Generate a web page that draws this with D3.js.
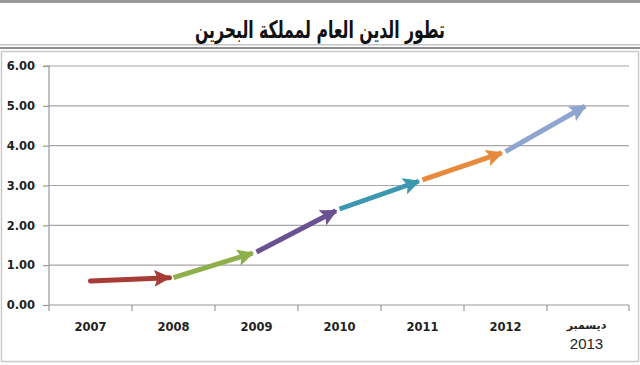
<!DOCTYPE html>
<html><head><meta charset="utf-8">
<script src="https://cdn.jsdelivr.net/npm/d3@7"></script>
<style>
html,body{margin:0;padding:0;background:#fff;}
svg{display:block;}
</style></head>
<body>
<svg id="c" width="640" height="365"></svg>
<script>
const title = "تطور الدين العام لمملكة البحرين";
const categories = ["2007","2008","2009","2010","2011","2012","2013"];
const categorySubLabels = ["","","","","","","ديسمبر"];
const values = [0.60, 0.69, 1.33, 2.41, 3.14, 3.85, 5.04];
const yTicks = [0,1,2,3,4,5,6];
const segmentColors = ["#a63b38","#8db04b","#6a5192","#3b98b0","#e88a3c","#8ea6cf"];

(function(){
const svg = d3.select("#c");
const W = 640, H = 365;

// frame
svg.append("rect").attr("x",0).attr("y",0).attr("width",W).attr("height",3).attr("fill","#9a9a9a");
svg.append("rect").attr("x",0).attr("y",44).attr("width",W).attr("height",1.5).attr("fill","#c4c4c4");
svg.append("rect").attr("x",0).attr("y",47).attr("width",W).attr("height",2).attr("fill","#8f8f8f");
svg.append("rect").attr("x",1.5).attr("y",51.5).attr("width",W-3).attr("height",310).attr("fill","#fff")
  .attr("stroke","#c9c9c9").attr("stroke-width",1.5);

svg.append("text").attr("x",320).attr("y",38).attr("text-anchor","middle")
  .attr("font-family","'DejaVu Sans', 'Noto Sans', sans-serif").attr("font-weight","bold")
  .attr("font-size",24).attr("fill","#111").attr("direction","rtl")
  .attr("textLength",250).attr("lengthAdjust","spacingAndGlyphs").text(title);

const mL = 49, mR = 630, mT = 66, mB = 305;
const x = d3.scaleBand().domain(categories).range([mL,mR]);
const y = d3.scaleLinear().domain([0,6]).range([mB,mT]);

// grid
svg.append("g").selectAll("line").data(yTicks.filter(d=>d>0)).join("line")
  .attr("x1",mL).attr("x2",mR-1).attr("y1",d=>y(d)).attr("y2",d=>y(d))
  .attr("stroke","#a6a6a6").attr("stroke-width",1.2);

// y axis
const yAxis = svg.append("g").attr("transform",`translate(${mL},0)`)
  .call(d3.axisLeft(y).tickValues(yTicks).tickSize(6).tickPadding(8).tickFormat(d3.format(".2f")));
yAxis.select(".domain").attr("stroke","#9a9a9a").attr("stroke-width",1.2).attr("d",`M-6,${mT}H0V${mB}`);
yAxis.selectAll(".tick line").attr("stroke","#9a9a9a").attr("stroke-width",1.2);
yAxis.selectAll("text").attr("font-family","'DejaVu Sans', sans-serif").attr("font-weight","bold")
  .attr("font-size",11.5).attr("fill","#222");

// x axis
const xg = svg.append("g").attr("transform",`translate(0,${mB})`);
xg.append("line").attr("x1",mL).attr("x2",mR-1).attr("stroke","#9a9a9a").attr("stroke-width",1.2);
const bounds = categories.map(c=>x(c)).concat([x(categories[categories.length-1])+x.bandwidth()]);
xg.selectAll(".tk").data(bounds).join("line").attr("class","tk")
  .attr("x1",d=>Math.min(d,mR-1)).attr("x2",d=>Math.min(d,mR-1)).attr("y1",0).attr("y2",6)
  .attr("stroke","#9a9a9a").attr("stroke-width",1.2);
categories.forEach((c,i)=>{
  const cx = x(c)+x.bandwidth()/2;
  if (categorySubLabels[i]) {
    svg.append("text").attr("x",cx-2).attr("y",329).attr("text-anchor","middle")
      .attr("font-family","'DejaVu Sans', sans-serif").attr("font-weight","bold").attr("font-size",11)
      .attr("fill","#222").attr("direction","rtl").text(categorySubLabels[i]);
    svg.append("text").attr("x",cx-2).attr("y",349).attr("text-anchor","middle")
      .attr("font-family","'Liberation Sans', Arial, sans-serif").attr("font-size",15)
      .attr("fill","#222").text(c);
  } else {
    svg.append("text").attr("x",cx).attr("y",331).attr("text-anchor","middle")
      .attr("font-family","'DejaVu Sans', sans-serif").attr("font-weight","bold").attr("font-size",11.5)
      .attr("fill","#222").text(c);
  }
});

// arrows
const defs = svg.append("defs");
segmentColors.forEach((col,i)=>{
  defs.append("marker").attr("id","ah"+i).attr("viewBox","0 0 10 10").attr("refX",9).attr("refY",5)
    .attr("markerWidth",3.4).attr("markerHeight",3.4).attr("orient","auto").attr("markerUnits","strokeWidth")
    .append("path").attr("d","M0,0L10,5L0,10L2,5Z").attr("fill",col);
});
const pts = categories.map((c,i)=>[x(c)+x.bandwidth()/2, y(values[i])]);
const segs = d3.range(pts.length-1).map(i=>({a:pts[i],b:pts[i+1],i}));
svg.append("g").selectAll("line").data(segs).join("line")
  .attr("x1",d=>d.a[0]).attr("y1",d=>d.a[1])
  .attr("x2",d=>{const dx=d.b[0]-d.a[0],dy=d.b[1]-d.a[1],L=Math.hypot(dx,dy);return d.b[0]-dx/L*4;})
  .attr("y2",d=>{const dx=d.b[0]-d.a[0],dy=d.b[1]-d.a[1],L=Math.hypot(dx,dy);return d.b[1]-dy/L*4;})
  .attr("stroke",d=>segmentColors[d.i]).attr("stroke-width",5)
  .attr("stroke-linecap",d=>d.i===0?"round":"butt")
  .attr("marker-end",d=>`url(#ah${d.i})`);
})();
</script>
</body></html>
